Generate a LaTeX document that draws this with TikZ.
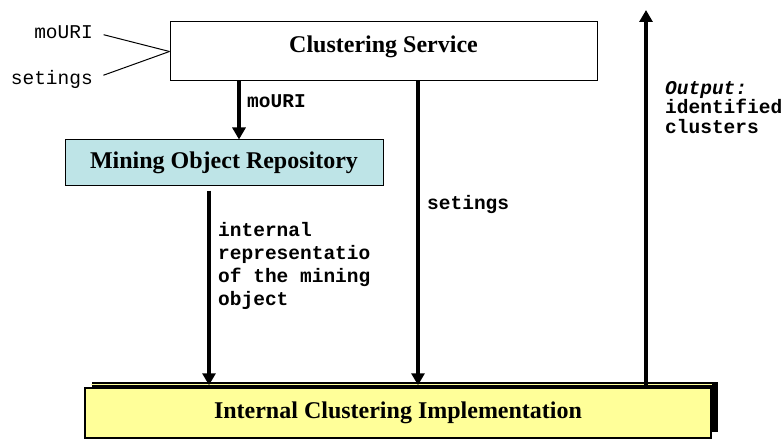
\documentclass[tikz,border=0pt]{standalone}
\usepackage{fontspec}
\setmainfont{Liberation Serif}
\setmonofont{Liberation Mono}
\usetikzlibrary{arrows.meta}
\usetikzlibrary{positioning}
\usetikzlibrary{shadows}
\definecolor{morcyan}{RGB}{190,228,231}
\definecolor{implyellow}{RGB}{255,255,153}

\begin{document}
\begin{tikzpicture}[x=1pt,y=-1pt,
  box/.style={draw,line width=1pt,inner sep=0pt,font=\fontsize{24}{28}\selectfont\bfseries},
  flow/.style={line width=4.5pt,-{Triangle[width=13pt,length=12pt]}},
  mono/.style={inner sep=0pt,align=left,font=\fontsize{19.5}{23}\selectfont\ttfamily\bfseries},
  plain/.style={inner sep=0pt,font=\fontsize{19.5}{23}\selectfont\ttfamily}]
\useasboundingbox (0,0) rectangle (784,441);
% boxes
\node[box,minimum width=427pt,minimum height=59pt,text height=16pt,text depth=13pt] (svc) at (383.5,51.5) {Clustering Service};
\node[box,fill=morcyan,minimum width=318pt,minimum height=45pt] (mor) at (224,162.5) {Mining Object Repository};
\node[box,fill=implyellow,line width=1.5pt,minimum width=626pt,minimum height=50pt,
  drop shadow={shadow xshift=7pt,shadow yshift=6pt,fill=black,opacity=1}] (impl) at (398,413) {Internal Clustering Implementation};
\draw[implyellow,line width=1.2pt] (impl.north west) ++(7,-3) -- ++(621,0);
% inputs
\node[plain,anchor=east] (inuri) at (93,32) {moURI};
\node[plain,anchor=east] (inset) at (93,79) {setings};
\draw[line width=1pt,shorten <=11pt] (inuri.east) -- (svc.west);
\draw[line width=1pt,shorten <=11pt] (inset.east) -- (svc.west);
% arrows
\coordinate (xm) at (239,0);
\coordinate (xr) at (209,0);
\coordinate (xs) at (418,0);
\coordinate (xo) at (646,0);
\coordinate (top) at (646,10);
\draw[flow] (svc.south -| xm) -- (mor.north -| xm);
\draw[flow,shorten <=5pt,shorten >=2pt] (mor.south -| xr) -- (impl.north -| xr);
\draw[flow,shorten >=2pt] (svc.south -| xs) -- (impl.north -| xs);
\draw[flow] (impl.north -| xo) -- (top);
% labels
\node[mono,anchor=west] (luri) at (247,101) {moURI};
\node[mono,anchor=west] (lset) at (427,205) {setings};
\node[mono,anchor=north west] (lrep) at (218,222) {internal\\representatio\\of the mining\\object};
\node[mono,anchor=north west,font=\fontsize{19.5}{19.5}\selectfont\ttfamily\bfseries] (lout) at (665,81) {\textit{Output:}\\identified\\clusters};
\end{tikzpicture}
\end{document}
